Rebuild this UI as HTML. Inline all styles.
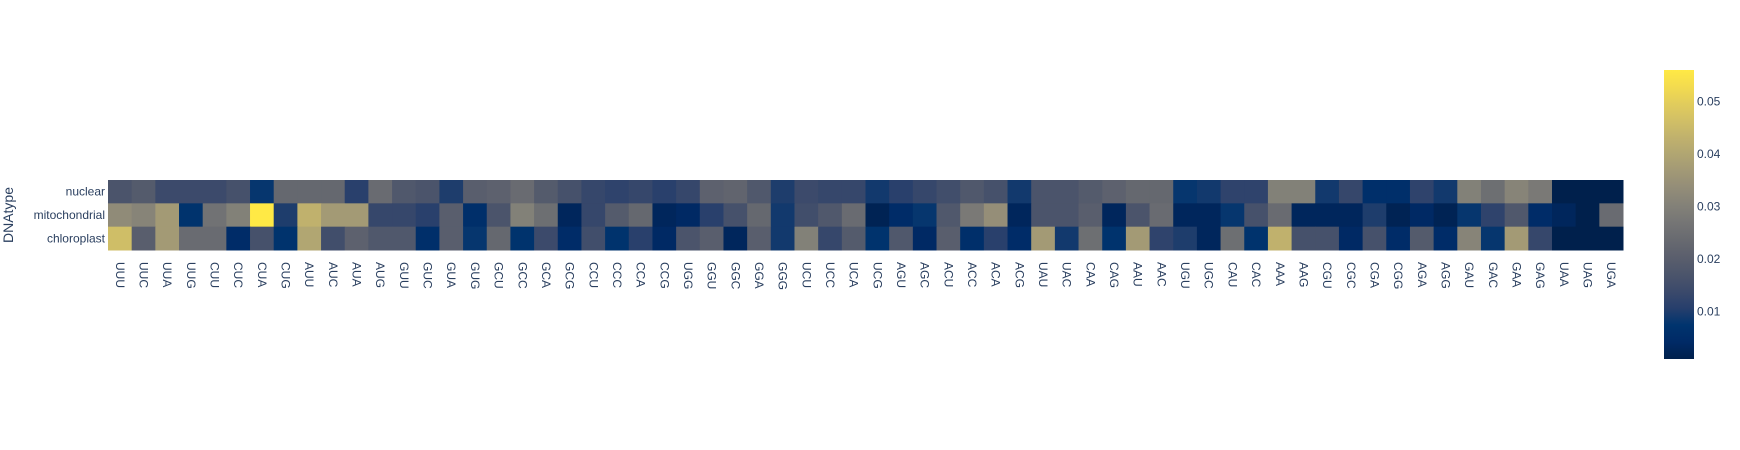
<!DOCTYPE html>
<html><head><meta charset="utf-8"><style>
html,body{margin:0;padding:0;background:#fff;}
svg{display:block;font-family:"Liberation Sans",Arial,sans-serif;}
</style></head><body>
<svg id="chart" width="1740" height="450"></svg>
<script>
const codons=["UUU","UUC","UUA","UUG","CUU","CUC","CUA","CUG","AUU","AUC","AUA","AUG","GUU","GUC","GUA","GUG","GCU","GCC","GCA","GCG","CCU","CCC","CCA","CCG","UGG","GGU","GGC","GGA","GGG","UCU","UCC","UCA","UCG","AGU","AGC","ACU","ACC","ACA","ACG","UAU","UAC","CAA","CAG","AAU","AAC","UGU","UGC","CAU","CAC","AAA","AAG","CGU","CGC","CGA","CGG","AGA","AGG","GAU","GAC","GAA","GAG","UAA","UAG","UGA"];
const rowsLabels=["nuclear","mitochondrial","chloroplast"];
const nuclear=[0.017,0.019,0.014,0.014,0.014,0.016,0.008,0.023,0.023,0.023,0.011,0.024,0.018,0.017,0.010,0.020,0.021,0.024,0.019,0.016,0.013,0.012,0.013,0.011,0.013,0.021,0.022,0.018,0.010,0.014,0.013,0.013,0.009,0.011,0.013,0.015,0.018,0.016,0.009,0.017,0.017,0.019,0.021,0.023,0.023,0.008,0.009,0.012,0.012,0.030,0.030,0.009,0.013,0.006,0.006,0.012,0.009,0.030,0.025,0.031,0.028,0.001,0.001,0.001];
const mitochondrial=[0.033,0.031,0.037,0.007,0.026,0.030,0.056,0.010,0.043,0.037,0.037,0.013,0.013,0.011,0.020,0.006,0.017,0.030,0.025,0.003,0.013,0.019,0.023,0.003,0.004,0.011,0.016,0.023,0.009,0.015,0.018,0.024,0.002,0.005,0.008,0.018,0.028,0.034,0.003,0.017,0.017,0.020,0.003,0.017,0.024,0.003,0.003,0.008,0.016,0.024,0.003,0.003,0.003,0.010,0.002,0.004,0.002,0.008,0.012,0.018,0.005,0.003,0.001,0.024];
const chloroplast=[0.046,0.020,0.037,0.024,0.024,0.005,0.016,0.007,0.040,0.015,0.021,0.018,0.018,0.006,0.020,0.008,0.023,0.007,0.014,0.005,0.015,0.007,0.011,0.004,0.017,0.020,0.003,0.020,0.009,0.030,0.013,0.019,0.007,0.018,0.004,0.020,0.006,0.011,0.005,0.037,0.009,0.025,0.007,0.037,0.012,0.010,0.003,0.025,0.007,0.043,0.016,0.016,0.004,0.016,0.005,0.019,0.005,0.031,0.008,0.037,0.013,0.001,0.001,0.001];
const cbTicks=[0.01,0.02,0.03,0.04,0.05];

const series=[nuclear,mitochondrial,chloroplast];
const NS="http://www.w3.org/2000/svg";
const svg=document.getElementById('chart');
function mk(t,a,p){const e=document.createElementNS(NS,t);for(const k in a)e.setAttribute(k,a[k]);(p||svg).appendChild(e);return e;}
const cividis=[[0,0,32,76],[0.058824,0,42,102],[0.117647,0,52,110],[0.176471,39,63,108],[0.235294,60,74,107],[0.294118,76,85,107],[0.352941,91,95,109],[0.411765,104,106,112],[0.470588,117,117,117],[0.529412,131,129,120],[0.588235,146,140,120],[0.647059,161,152,118],[0.705882,176,165,114],[0.764706,192,177,109],[0.823529,209,191,102],[0.882353,225,204,92],[0.941176,243,219,79],[1,255,233,69]];
function col(t){t=Math.max(0,Math.min(1,t));for(let i=1;i<cividis.length;i++){if(t<=cividis[i][0]){const a=cividis[i-1],b=cividis[i],f=(t-a[0])/(b[0]-a[0]);return `rgb(${Math.round(a[1]+f*(b[1]-a[1]))},${Math.round(a[2]+f*(b[2]-a[2]))},${Math.round(a[3]+f*(b[3]-a[3]))})`;}}return 'rgb(255,233,69)';}
const all=series.flat();
const zmin=Math.min(...all), zmax=Math.max(...all);
const X0=108,X1=1623,Y0=180,Y1=250;
const cw=(X1-X0)/codons.length, rh=(Y1-Y0)/rowsLabels.length;
const xPos=i=>X0+i*cw, yPos=r=>Y0+r*rh;
const tNorm=v=>(v-zmin)/(zmax-zmin);

const g=mk('g',{});


series.forEach((arr,r)=>{arr.forEach((v,i)=>{
  const c=mk('rect',{x:xPos(i),y:yPos(r),width:cw+0.5,height:rh+0.5,fill:col(tNorm(v))},g);
  
  
});});

codons.forEach((c,i)=>{
  const cx=xPos(i)+cw/2;
  const t=mk('text',{x:0,y:0,transform:`translate(${cx-4},262) rotate(90)`,'font-size':12,fill:'#2a3f5f'});
  t.textContent=c;
  
  
});
rowsLabels.forEach((l,r)=>{
  const t=mk('text',{x:X0-3,y:yPos(r)+rh/2+4,'text-anchor':'end','font-size':12,fill:'#2a3f5f'});
  t.textContent=l;
  
  
});
const yt=mk('text',{x:0,y:0,transform:'translate(13,215) rotate(-90)','text-anchor':'middle','font-size':14,fill:'#2a3f5f'});
yt.textContent='DNAtype';



// colorbar
const CB0=70,CB1=359,CX=1664,CWd=30;
const defs=mk('defs',{});
const lg=mk('linearGradient',{id:'cg',x1:0,y1:1,x2:0,y2:0},defs);
cividis.forEach(s=>mk('stop',{offset:s[0],'stop-color':`rgb(${s[1]},${s[2]},${s[3]})`},lg));
const cb=mk('rect',{x:CX,y:CB0,width:CWd,height:CB1-CB0,fill:'url(#cg)'});


const cbY=v=>CB1-(v-zmin)/(zmax-zmin)*(CB1-CB0);
cbTicks.forEach(v=>{
  const t=mk('text',{x:CX+CWd+3,y:cbY(v)+4,'font-size':12,fill:'#2a3f5f'});
  t.textContent=v.toFixed(2);
  
  
});
</script>
</body></html>
